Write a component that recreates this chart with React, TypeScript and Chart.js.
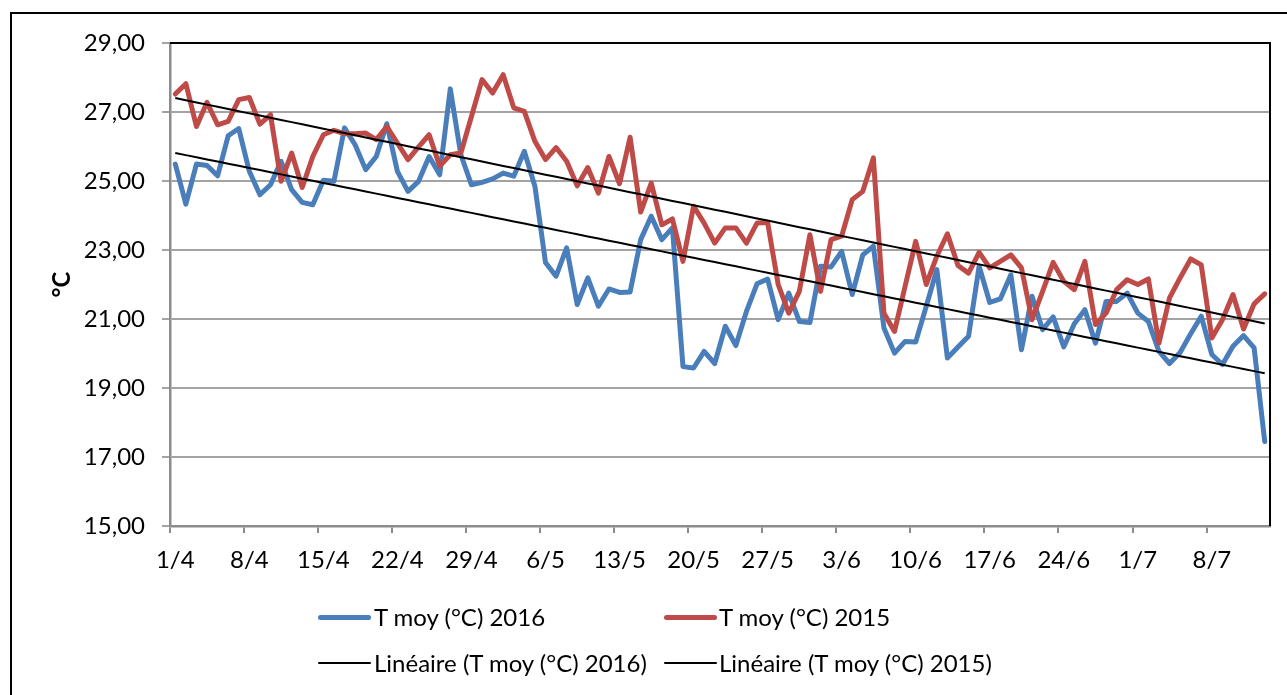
import React, { useEffect, useRef } from 'react';
import { Chart, registerables } from 'chart.js';

Chart.register(...registerables);

const categories = [
  '1/4', '2/4', '3/4', '4/4', '5/4', '6/4', '7/4', '8/4', '9/4', '10/4', '11/4', '12/4', '13/4', '14/4', '15/4',
  '16/4', '17/4', '18/4', '19/4', '20/4', '21/4', '22/4', '23/4', '24/4', '25/4', '26/4', '27/4', '28/4', '29/4', '30/4',
  '1/5', '2/5', '3/5', '4/5', '5/5', '6/5', '7/5', '8/5', '9/5', '10/5', '11/5', '12/5', '13/5', '14/5', '15/5',
  '16/5', '17/5', '18/5', '19/5', '20/5', '21/5', '22/5', '23/5', '24/5', '25/5', '26/5', '27/5', '28/5', '29/5', '30/5', '31/5',
  '1/6', '2/6', '3/6', '4/6', '5/6', '6/6', '7/6', '8/6', '9/6', '10/6', '11/6', '12/6', '13/6', '14/6', '15/6',
  '16/6', '17/6', '18/6', '19/6', '20/6', '21/6', '22/6', '23/6', '24/6', '25/6', '26/6', '27/6', '28/6', '29/6', '30/6',
  '1/7', '2/7', '3/7', '4/7', '5/7', '6/7', '7/7', '8/7', '9/7', '10/7', '11/7', '12/7', '13/7'
];

const tmoy2016 = [
  25.49, 24.33, 25.49, 25.45, 25.15, 26.31, 26.52, 25.28, 24.60, 24.89, 25.57, 24.75, 24.38, 24.31, 25.02, 24.99, 26.54,
  26.05, 25.33, 25.71, 26.66, 25.28, 24.70, 24.99, 25.71, 25.18, 27.67, 25.76, 24.89, 24.96, 25.06, 25.23, 25.14, 25.86, 24.85,
  22.64, 22.24, 23.06, 21.42, 22.19, 21.37, 21.87, 21.77, 21.78, 23.30, 23.98, 23.30, 23.64,
  19.62, 19.58,
  20.06, 19.71, 20.79, 20.23, 21.22, 22.02, 22.16, 20.98, 21.75, 20.93, 20.90, 22.53, 22.51, 22.96, 21.71, 22.86, 23.11,
  20.74, 20.01, 20.35, 20.33, 21.37, 22.43, 19.87, 20.19, 20.50, 22.53, 21.48, 21.58, 22.28, 20.11, 21.66, 20.69, 21.06, 20.19,
  20.86, 21.27, 20.30, 21.51, 21.51, 21.75, 21.17, 20.93, 20.06, 19.71, 20.03, 20.57, 21.08, 19.97, 19.68, 20.21, 20.52, 20.16, 17.45
];

const tmoy2015 = [
  27.52, 27.82, 26.58, 27.28, 26.63, 26.73, 27.36, 27.42, 26.65, 26.92, 24.99, 25.81, 24.81, 25.71, 26.34, 26.47, 26.37,
  26.37, 26.39, 26.20, 26.58, 26.10, 25.62, 25.99, 26.34, 25.43, 25.76, 25.81, 26.87, 27.94, 27.55, 28.08, 27.12,
  27.02, 26.15, 25.62, 25.97, 25.57, 24.86, 25.39, 24.65, 25.71, 24.92, 26.27, 24.10, 24.94, 23.73, 23.90, 22.67, 24.27, 23.78, 23.20,
  23.64, 23.64, 23.20, 23.78, 23.80, 22.00, 21.17, 21.80, 23.44, 21.80, 23.30, 23.40, 24.46, 24.70, 25.67,
  21.17, 20.64, 21.95, 23.25, 22.00, 22.82, 23.47, 22.55, 22.33, 22.93, 22.48, 22.67, 22.86, 22.48, 20.98, 21.80, 22.64, 22.09,
  21.85, 22.67, 20.84, 21.17, 21.85, 22.14, 22.00, 22.16, 20.30, 21.61, 22.19, 22.74, 22.57, 20.45, 20.98, 21.71, 20.71, 21.44, 21.73
];

const seriesNames = ['T moy (°C) 2016', 'T moy (°C) 2015'];
const trendNames = ['Linéaire (T moy (°C) 2016)', 'Linéaire (T moy (°C) 2015)'];
const yMin = 15;
const yMax = 29;
const yStep = 2;
const labelEvery = 7;

const BLUE = '#4a7ebb';
const RED = '#be4b48';
const FONT = 'Lato';
const FS = 24;

function linearTrend(values: number[]): number[] {
  const n = values.length;
  let sx = 0, sy = 0, sxx = 0, sxy = 0;
  values.forEach((v, i) => {
    const x = i + 1;
    sx += x; sy += v; sxx += x * x; sxy += x * v;
  });
  const slope = (n * sxy - sx * sy) / (n * sxx - sx * sx);
  const icpt = (sy - slope * sx) / n;
  return values.map((_, i) => icpt + slope * (i + 1));
}

const plotFrame = {
  id: 'plotFrame',
  afterDatasetsDraw(chart: any) {
    const { ctx, chartArea } = chart;
    const { left, top, right, bottom } = chartArea;
    ctx.save();
    ctx.strokeStyle = '#000';
    ctx.lineWidth = 2;
    ctx.beginPath();
    ctx.moveTo(left, top);
    ctx.lineTo(right, top);
    ctx.lineTo(right, bottom);
    ctx.stroke();
    ctx.restore();
  }
};

export default function App() {
  const ref = useRef<HTMLCanvasElement | null>(null);

  useEffect(() => {
    if (!ref.current) return;
    const chart = new Chart(ref.current, {
      type: 'line',
      data: {
        labels: categories,
        datasets: [
          {
            label: trendNames[0], data: linearTrend(tmoy2016), borderColor: '#000', borderWidth: 2,
            pointRadius: 0, tension: 0, fill: false
          },
          {
            label: trendNames[1], data: linearTrend(tmoy2015), borderColor: '#000', borderWidth: 2,
            pointRadius: 0, tension: 0, fill: false
          },
          {
            label: seriesNames[1], data: tmoy2015, borderColor: RED, borderWidth: 5,
            pointRadius: 0, tension: 0, fill: false, borderJoinStyle: 'round', borderCapStyle: 'round'
          },
          {
            label: seriesNames[0], data: tmoy2016, borderColor: BLUE, borderWidth: 5,
            pointRadius: 0, tension: 0, fill: false, borderJoinStyle: 'round', borderCapStyle: 'round'
          }
        ]
      },
      options: {
        responsive: false,
        animation: false,
        layout: { padding: { left: 40, right: 17, top: 43, bottom: 109 } },
        plugins: { legend: { display: false }, tooltip: { enabled: false }, title: { display: false } },
        scales: {
          x: {
            type: 'category',
            offset: true,
            afterFit: (s: any) => { s.height = 60; },
            grid: {
              offset: true,
              drawOnChartArea: false,
              drawTicks: true,
              tickLength: 7,
              lineWidth: 2,
              color: (c: any) => (c.index % labelEvery === 0 ? '#8c8c8c' : 'rgba(0,0,0,0)')
            },
            border: { display: true, color: '#8c8c8c', width: 2.5 },
            ticks: {
              autoSkip: false,
              maxRotation: 0,
              minRotation: 0,
              padding: 13,
              color: '#000',
              font: { family: FONT, size: FS },
              callback: (_v: any, i: number) => (i % labelEvery === 0 ? categories[i] : '')
            }
          },
          y: {
            min: yMin,
            max: yMax,
            afterFit: (s: any) => { s.width = 130; },
            grid: { color: '#a3a3a3', lineWidth: 2, tickLength: 8, drawTicks: true },
            border: { display: true, color: '#8c8c8c', width: 2.5 },
            ticks: {
              stepSize: yStep,
              padding: 17,
              color: '#000',
              font: { family: FONT, size: FS },
              callback: (v: any) => Number(v).toFixed(2).replace('.', ',')
            },
            title: {
              display: true,
              text: '°C',
              color: '#000',
              font: { family: FONT, size: FS, weight: 'bold' },
              padding: { top: 8, bottom: 0 }
            }
          }
        }
      },
      plugins: [plotFrame]
    } as any);
    return () => chart.destroy();
  }, []);

  const textStyle: React.CSSProperties = {
    position: 'absolute', fontFamily: FONT, fontSize: FS, lineHeight: '28px', color: '#000', whiteSpace: 'nowrap'
  };
  const line = (x: number, y: number, color: string, w: number): React.CSSProperties => ({
    position: 'absolute', left: x, top: y - w / 2, width: 53, height: w, background: color, borderRadius: w / 2
  });

  return (
    <div style={{ position: 'fixed', left: 0, top: 0, width: 1287, height: 695, overflow: 'hidden', background: '#fff' }}>
      <div style={{ position: 'absolute', left: 10, top: 12, width: 1300, height: 720, border: '2px solid #000', boxSizing: 'border-box' }} />
      <canvas ref={ref} width={1287} height={695} style={{ position: 'absolute', left: 0, top: 0 }} />
      <div style={line(318, 617, BLUE, 5)} />
      <div style={{ ...textStyle, left: 374, top: 603 }}>{seriesNames[0]}</div>
      <div style={line(664, 617, RED, 5)} />
      <div style={{ ...textStyle, left: 719, top: 603 }}>{seriesNames[1]}</div>
      <div style={line(318, 663, '#000', 2)} />
      <div style={{ ...textStyle, left: 374, top: 649 }}>{trendNames[0]}</div>
      <div style={line(664, 663, '#000', 2)} />
      <div style={{ ...textStyle, left: 719, top: 649 }}>{trendNames[1]}</div>
    </div>
  );
}
